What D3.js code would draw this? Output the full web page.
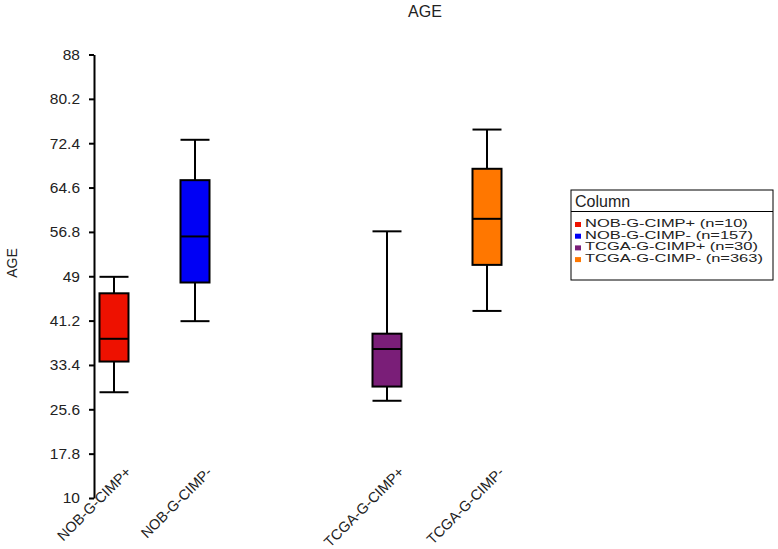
<!DOCTYPE html>
<html>
<head>
<meta charset="utf-8">
<script src="https://cdn.jsdelivr.net/npm/d3@7/dist/d3.min.js"></script>
<style>
  body { margin: 0; background: #fff; }
  text { font-family: "Liberation Sans", Arial, sans-serif; fill: #222; }
  .axis path, .axis line { stroke: #000; stroke-width: 2px; }
</style>
</head>
<body>
<div id="chart"></div>
<script>
// box plot data
var categories = ["NOB-G-CIMP+", "NOB-G-CIMP-", "TCGA-G-CIMP+", "TCGA-G-CIMP-"];
var counts = [10, 157, 30, 363];
var whiskerLow = [28.6, 41.1, 27.1, 42.9];
var q1 = [34.0, 47.9, 29.6, 51.0];
var medians = [38.0, 56.0, 36.2, 59.1];
var q3 = [46.0, 65.9, 38.9, 67.9];
var whiskerHigh = [48.9, 73.0, 56.9, 74.8];
var yTicks = [10, 17.8, 25.6, 33.4, 41.2, 49, 56.8, 64.6, 72.4, 80.2, 88];
var colors = ["#ee1100", "#0000f5", "#7a1e78", "#ff7700"];

(function() {
  var w = 778, h = 549;
  var boxWidth = 29;

  var svg = d3.select("#chart")
      .append("svg")
      .attr("width", w)
      .attr("height", h);

  var yScale = d3.scaleLinear().domain([10, 88]).range([498, 54.5]);
  // the groups are not evenly spaced in the picture
  var xScale = d3.scaleOrdinal().domain(categories).range([114, 195, 387, 487]);

  var yAxis = d3.axisLeft(yScale)
      .tickValues(yTicks)
      .tickSize(5)
      .tickSizeOuter(0)
      .tickPadding(9)
      .tickFormat(function(d) { return String(d); });

  svg.append("g")
      .attr("class", "y axis")
      .attr("transform", "translate(94, 0)")
      .call(yAxis)
      .selectAll("text")
      .style("font-size", "15.5px");

  var data = categories.map(function(c, i) {
    return {name: c, n: counts[i], lo: whiskerLow[i], q1: q1[i], med: medians[i], q3: q3[i], hi: whiskerHigh[i], color: colors[i]};
  });

  var box = svg.append("g")
      .attr("class", "boxes")
      .selectAll("g")
      .data(data)
      .enter()
      .append("g");

  // whisker stems
  box.append("line")
      .attr("x1", function(d) { return xScale(d.name); })
      .attr("x2", function(d) { return xScale(d.name); })
      .attr("y1", function(d) { return yScale(d.hi); })
      .attr("y2", function(d) { return yScale(d.lo); })
      .attr("stroke", "#000")
      .attr("stroke-width", 2);

  // whisker caps
  ["lo", "hi"].forEach(function(k) {
    box.append("line")
        .attr("x1", function(d) { return xScale(d.name) - boxWidth / 2; })
        .attr("x2", function(d) { return xScale(d.name) + boxWidth / 2; })
        .attr("y1", function(d) { return yScale(d[k]); })
        .attr("y2", function(d) { return yScale(d[k]); })
        .attr("stroke", "#000")
        .attr("stroke-width", 2);
  });

  box.append("rect")
      .attr("x", function(d) { return xScale(d.name) - boxWidth / 2; })
      .attr("y", function(d) { return yScale(d.q3); })
      .attr("width", boxWidth)
      .attr("height", function(d) { return yScale(d.q1) - yScale(d.q3); })
      .attr("fill", function(d) { return d.color; })
      .attr("stroke", "#000")
      .attr("stroke-width", 2);

  box.append("line")
      .attr("x1", function(d) { return xScale(d.name) - boxWidth / 2; })
      .attr("x2", function(d) { return xScale(d.name) + boxWidth / 2; })
      .attr("y1", function(d) { return yScale(d.med); })
      .attr("y2", function(d) { return yScale(d.med); })
      .attr("stroke", "#000")
      .attr("stroke-width", 2);

  // rotated category labels
  svg.append("g")
      .selectAll("text")
      .data(categories)
      .enter()
      .append("text")
      .attr("transform", function(d) { return "translate(" + (xScale(d) + 18) + ", 473) rotate(-45)"; })
      .attr("text-anchor", "end")
      .style("font-size", "14.5px")
      .text(function(d) { return d; });

  svg.append("text")
      .attr("x", 425)
      .attr("y", 17)
      .attr("text-anchor", "middle")
      .style("font-size", "16px")
      .text("AGE");

  svg.append("text")
      .attr("transform", "translate(17, 263) rotate(-90)")
      .attr("text-anchor", "middle")
      .style("font-size", "14px")
      .text("AGE");

  // legend
  var legend = svg.append("g")
      .attr("class", "legend")
      .attr("transform", "translate(571, 190)");

  legend.append("rect")
      .attr("width", 202)
      .attr("height", 90)
      .attr("fill", "#fff")
      .attr("stroke", "#000")
      .attr("stroke-width", 1);

  legend.append("line")
      .attr("x1", 0).attr("x2", 202)
      .attr("y1", 21.5).attr("y2", 21.5)
      .attr("stroke", "#000");

  legend.append("text")
      .attr("x", 4)
      .attr("y", 17)
      .style("font-size", "16px")
      .text("Column");

  var item = legend.selectAll("g.item")
      .data(data)
      .enter()
      .append("g")
      .attr("class", "item")
      .attr("transform", function(d, i) { return "translate(0, " + (37 + i * 11.7) + ")"; });

  item.append("rect")
      .attr("x", 4)
      .attr("y", -5)
      .attr("width", 6)
      .attr("height", 5)
      .attr("fill", function(d) { return d.color; });

  // rows sit very tight in the original, squash the text a bit
  item.append("text")
      .attr("transform", "translate(14, 0) scale(1.03, 0.72)")
      .style("font-size", "16px")
      .text(function(d) { return d.name + " (n=" + d.n + ")"; });
})();
</script>
</body>
</html>
